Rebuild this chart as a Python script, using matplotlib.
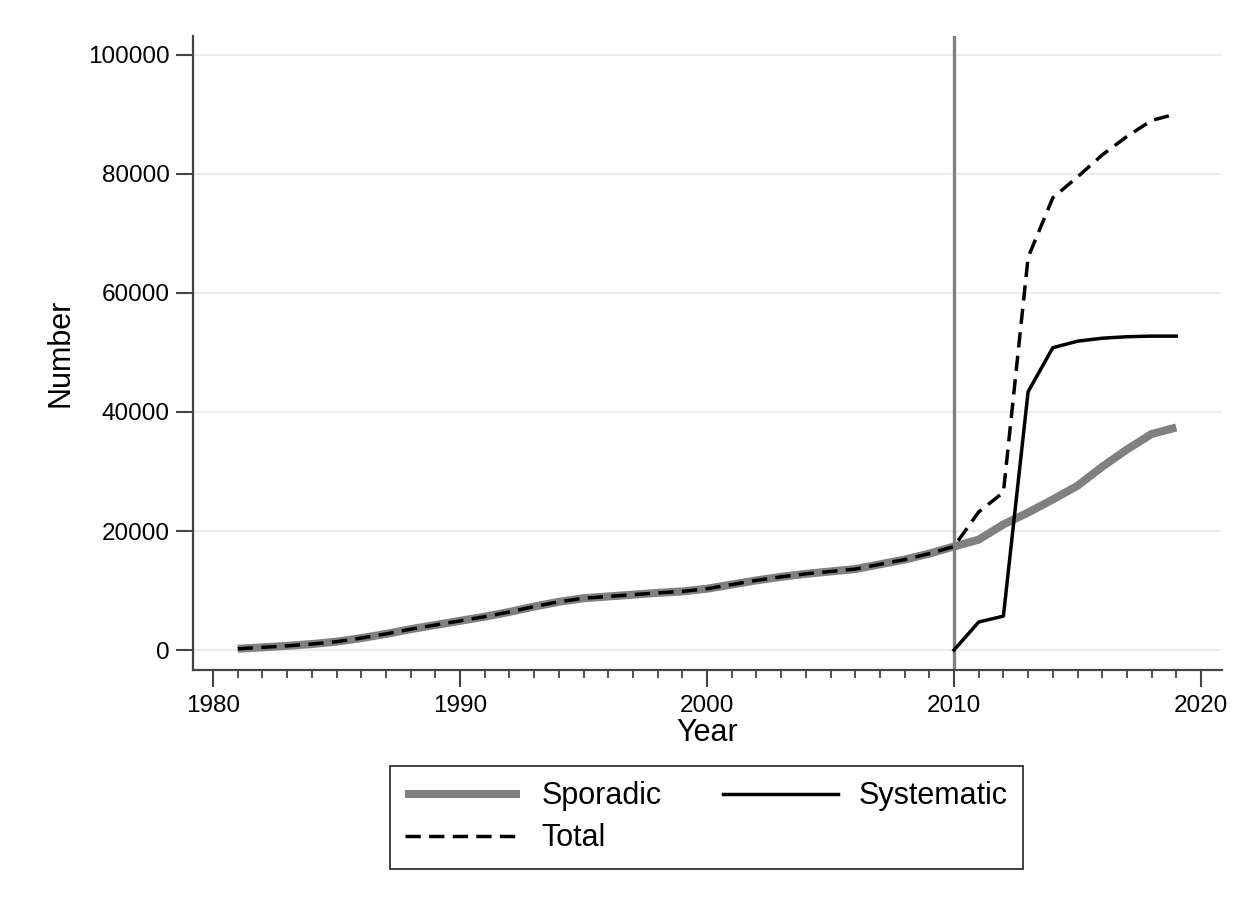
import matplotlib
matplotlib.use("Agg")
import matplotlib.pyplot as plt
from matplotlib.ticker import MultipleLocator

plt.rcParams['font.family'] = ['Liberation Sans', 'DejaVu Sans']

years = list(range(1981, 2020))
sporadic = [200, 450, 700, 1000, 1400, 2000, 2700, 3500, 4200, 4900,
            5600, 6400, 7300, 8100, 8700, 9000, 9300, 9600, 9850, 10300,
            11000, 11700, 12300, 12800, 13200, 13600, 14400, 15200, 16200, 17400,
            18550, 21100, 23100, 25300, 27600, 30800, 33700, 36300, 37400]
sys_years = list(range(2010, 2020))
systematic = [0, 4700, 5700, 43400, 50800, 51900, 52400, 52650, 52750, 52750]
total = [200, 450, 700, 1000, 1400, 2000, 2700, 3500, 4200, 4900,
         5600, 6400, 7300, 8100, 8700, 9000, 9300, 9600, 9850, 10300,
         11000, 11700, 12300, 12800, 13200, 13600, 14400, 15200, 16200, 17400,
         23200, 26500, 66000, 76000, 79500, 83200, 86300, 89000, 90100]
yticks = [0, 20000, 40000, 60000, 80000, 100000]
xticks = [1980, 1990, 2000, 2010, 2020]

W, H = 1251, 909
fig = plt.figure(figsize=(W / 100, H / 100), dpi=100)
ax = fig.add_axes([193 / W, 1 - 670 / H, (1222 - 193) / W, (670 - 36) / H])

ax.set_xlim(1979.19, 2020.85)
ax.set_ylim(-3360, 103190)

for y in yticks:
    ax.axhline(y, color='#e8eff1', lw=1.6, zorder=0.5)
ax.axvline(2010, color='#808080', lw=2.4, zorder=1)

l1, = ax.plot(years, sporadic, color='#808080', lw=5.8, solid_capstyle='butt', zorder=2, label='Sporadic')
l2, = ax.plot(sys_years, systematic, color='black', lw=2.5, zorder=3, label='Systematic')
l3, = ax.plot(years, total, color='black', lw=2.5, dashes=(4.4, 2.4), zorder=4, label='Total')

ax.set_yticks(yticks)
ax.set_yticklabels([str(v) for v in yticks])
ax.set_xticks(xticks)
ax.xaxis.set_minor_locator(MultipleLocator(1))

for s in ['top', 'right']:
    ax.spines[s].set_visible(False)
for s in ['left', 'bottom']:
    ax.spines[s].set_color('#444444')
    ax.spines[s].set_linewidth(1.6)

ax.tick_params(axis='both', which='major', length=12, width=1.5, color='#444444',
               labelsize=17.5)
ax.tick_params(axis='y', which='major', pad=5)
ax.tick_params(axis='x', which='minor', length=6, width=1.3, color='#444444')
ax.tick_params(axis='x', which='major', pad=6)

ax.set_xlabel('Year', fontsize=22, labelpad=1)
ax.set_ylabel('Number', fontsize=22, labelpad=9)

leg = fig.legend(handles=[l1, l3, l2], labels=['Sporadic', 'Total', 'Systematic'],
                 loc='upper left', bbox_to_anchor=(390 / W, 1 - 766 / H),
                 ncol=2, fontsize=22, frameon=True, fancybox=False,
                 edgecolor='black', handlelength=3.77, handletextpad=0.69,
                 columnspacing=2.0, labelspacing=0.4, borderpad=0.5,
                 borderaxespad=0)
leg.get_frame().set_linewidth(1.3)

fig.savefig('out.png', dpi=100, facecolor='white')
